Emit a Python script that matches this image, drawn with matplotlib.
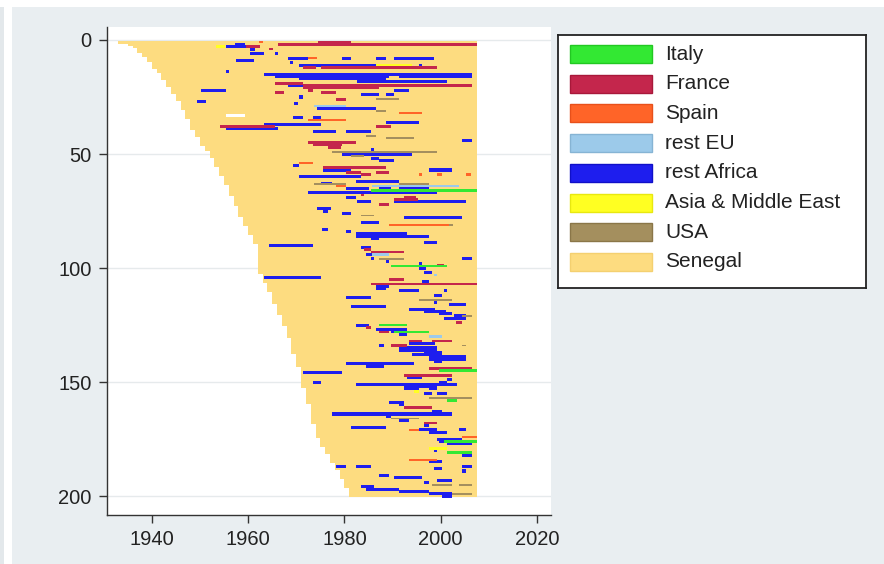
import numpy as np
import matplotlib.pyplot as plt
from matplotlib.patches import Rectangle

plt.rcParams['font.family'] = ['Liberation Sans', 'DejaVu Sans']

SURVEY_END = 2007.5

# first year observed in Senegal, one entry per cohort, and how many people share it
cohort_years = [1933, 1935, 1936, 1937, 1938, 1939, 1940, 1941, 1942, 1943, 1944, 1945,
                1946, 1947, 1948, 1949, 1950, 1951, 1952, 1953, 1954, 1955, 1956, 1957,
                1958, 1959, 1960, 1961, 1962, 1963, 1964, 1965, 1966, 1967, 1968, 1969,
                1970, 1971, 1972, 1973, 1974, 1975, 1976, 1977, 1978, 1979, 1980, 1981]
cohort_sizes = [1, 1, 1, 2, 2, 2, 3, 2, 3, 3, 3, 3,
                4, 4, 5, 3, 4, 2, 3, 4, 4, 4, 5, 4,
                5, 4, 4, 4, 13, 4, 4, 5, 5, 5, 5, 7,
                6, 9, 7, 9, 6, 4, 3, 4, 3, 4, 4, 4]

# spells abroad: (person, from, to)
italy = [(66, 1985.5, 2007.5), (99, 1989.6, 2001.4), (125, 1987.2, 1993.1),
         (128, 1990.3, 1997.6), (145, 1999.6, 2007.5), (158, 2001.4, 2003.4),
         (176, 2000.7, 2007.5), (181, 2001.4, 2006.5)]

france = [(1, 1974.5, 1981.3), (2, 1966.3, 2007.5), (3, 1959.6, 1962.4), (4, 1964.4, 1965.1),
          (12, 1971.3, 1974.1), (12, 1975.1, 1999.3), (19, 1965.5, 1971.3), (20, 1971.3, 2006.5),
          (21, 1971.3, 1987.2), (22, 1972.4, 1973.4), (23, 1965.5, 1967.5), (23, 1975.1, 1978.2),
          (26, 1978.2, 1980.3), (38, 1954.1, 1965.5), (38, 1986.5, 1989.6), (45, 1972.4, 1982.4),
          (46, 1973.4, 1979.6), (47, 1976.5, 1979.3), (56, 1975.5, 1988.6), (58, 1980.3, 1983.4),
          (58, 1986.5, 1989.3), (59, 1983.4, 1985.5), (68, 1983.4, 1984.1), (69, 1992.4, 1994.8),
          (70, 1990.3, 1995.2), (72, 1987.2, 1989.3), (92, 1984.1, 1985.5), (93, 1985.5, 1992.4),
          (99, 1999.3, 2000.7), (105, 1989.3, 1992.4), (107, 1985.5, 2007.5), (124, 2003.1, 2004.5),
          (126, 1984.5, 1985.5), (128, 1987.2, 1989.3), (132, 1993.4, 1996.2), (132, 1998.2, 2002.4),
          (134, 1989.6, 1993.1), (144, 1997.6, 2006.5), (147, 1992.4, 2002.4), (161, 1992.4, 1998.2),
          (168, 1996.5, 1999.3)]

spain = [(1, 1962.3, 1963.0), (8, 1972.4, 1974.4), (32, 1991.3, 1996.2), (35, 1972.4, 1980.3),
         (54, 1970.6, 1973.4), (59, 1995.5, 1996.2), (59, 1999.3, 2000.3), (59, 2005.2, 2006.2),
         (64, 1978.2, 1980.3), (81, 1989.3, 2001.7), (171, 1993.4, 1995.5), (174, 2004.5, 2007.5),
         (184, 1993.4, 1999.3)]

rest_eu = [(29, 1973.7, 1980.3), (64, 1985.8, 2003.8), (94, 1985.8, 1989.3),
           (103, 1998.6, 1999.3), (130, 1997.6, 2000.3)]

rest_africa = [
    (2, 1957.2, 1959.3), (3, 1955.5, 1962.4), (4, 1960.3, 1961.5), (6, 1960.3, 1963.4),
    (6, 1965.5, 1966.2), (8, 1968.2, 1972.4), (8, 1979.6, 1981.3), (8, 1986.5, 1988.6),
    (8, 1990.3, 1998.6), (9, 1957.4, 1961.3), (10, 1968.6, 1969.3), (11, 1970.6, 1986.5),
    (11, 1995.5, 1996.2), (14, 1955.5, 1956.1), (15, 1963.4, 2006.5), (16, 1965.5, 1989.3),
    (16, 1991.3, 2006.5), (17, 1970.6, 1988.6), (18, 1982.7, 2001.4), (20, 1968.2, 1971.3),
    (22, 1950.3, 1955.5), (22, 1990.3, 1993.4), (24, 1983.4, 1987.2), (24, 1988.6, 1990.3),
    (25, 1970.6, 1971.3), (27, 1949.3, 1951.2), (28, 1969.6, 1970.3), (30, 1974.4, 1986.5),
    (34, 1969.3, 1971.3), (34, 1973.4, 1975.1), (36, 1988.6, 1995.5), (37, 1963.4, 1975.1),
    (39, 1955.5, 1966.2), (40, 1973.4, 1978.2), (40, 1980.3, 1985.5), (44, 2004.5, 2006.5),
    (48, 1985.5, 1986.2), (50, 1979.6, 1994.1), (52, 1985.5, 1987.2), (53, 1987.2, 1990.3),
    (55, 1969.3, 1970.6), (57, 1975.5, 1981.3), (57, 1997.6, 2002.4), (60, 1970.6, 1983.4),
    (62, 1982.4, 1991.3), (63, 1975.1, 1977.5), (65, 1980.3, 1985.1), (65, 1987.2, 1989.6),
    (65, 1991.3, 1997.6), (67, 1972.4, 1999.3), (69, 1980.3, 1982.4), (71, 1982.7, 1985.5),
    (71, 1990.3, 2005.2), (74, 1974.4, 1977.2), (75, 1975.5, 1976.5), (76, 1979.6, 1981.3),
    (78, 1992.4, 2004.5), (80, 1983.4, 1987.2), (83, 1975.3, 1976.5), (84, 1980.3, 1981.3),
    (85, 1982.4, 1993.1), (86, 1982.4, 1997.6), (87, 1985.5, 1987.2), (89, 1996.5, 1999.3),
    (90, 1964.4, 1973.4), (91, 1983.4, 1985.5), (94, 1984.5, 1987.5), (96, 1985.5, 1986.2),
    (96, 2004.5, 2006.5), (97, 1988.6, 1989.3), (98, 1995.5, 1996.2), (100, 1995.5, 1996.9),
    (102, 1996.5, 1998.2), (104, 1963.4, 1975.1), (106, 1996.2, 1997.6), (108, 1986.5, 1989.3),
    (109, 1986.5, 1988.6), (110, 1991.3, 1995.5), (110, 2000.7, 2001.4), (112, 1998.6, 2000.3),
    (113, 1980.3, 1985.5), (115, 1998.6, 1999.3), (116, 2001.7, 2005.2), (117, 1981.3, 1988.6),
    (118, 1993.4, 1998.9), (119, 1996.5, 2001.0), (120, 1999.6, 2002.4), (121, 2002.8, 2005.2),
    (122, 2000.7, 2005.2), (125, 1982.4, 1985.1), (127, 1986.5, 1993.1), (128, 1989.6, 1991.3),
    (129, 1991.3, 1993.1), (133, 1993.4, 1998.9), (134, 1987.2, 1988.2), (135, 1991.3, 1999.3),
    (136, 1991.3, 1999.3), (137, 1996.5, 2000.3), (138, 1994.1, 2000.3), (139, 1997.6, 2005.2),
    (140, 1997.6, 2005.2), (141, 1998.6, 2000.3), (142, 1980.3, 1994.5), (143, 1984.5, 1988.2),
    (146, 1971.3, 1979.6), (148, 1993.1, 1996.2), (149, 2001.4, 2002.4), (150, 1973.4, 1975.1),
    (150, 1999.6, 2001.4), (151, 1982.4, 2003.4), (152, 1992.4, 1999.3), (153, 1992.4, 1995.5),
    (153, 1997.6, 1999.3), (155, 1996.5, 1998.2), (155, 1999.3, 2001.4), (159, 1989.3, 1992.4),
    (160, 1991.3, 1992.4), (161, 1995.5, 1997.6), (163, 1998.2, 2000.3), (164, 1977.5, 2002.4),
    (165, 1988.6, 1989.6), (167, 1991.3, 1993.4), (169, 1996.5, 1997.6), (170, 1981.3, 1988.6),
    (171, 1995.5, 1999.3), (171, 2003.8, 2005.2), (172, 1997.6, 2001.4), (175, 1999.3, 2004.5),
    (176, 1999.6, 2002.4), (177, 2001.4, 2006.5), (180, 1998.6, 1999.3), (182, 2004.5, 2006.5),
    (185, 1997.6, 2000.3), (187, 1978.2, 1980.3), (187, 1982.4, 1985.5), (187, 2004.5, 2006.5),
    (188, 1998.6, 2000.3), (189, 2004.5, 2005.2), (191, 1987.2, 1989.3), (192, 1990.3, 1996.2),
    (193, 1999.3, 2002.4), (194, 1996.5, 1997.6), (196, 1983.4, 1986.2), (197, 1984.5, 1991.3),
    (198, 1991.3, 1997.6), (199, 1997.6, 2002.4), (200, 2000.3, 2002.4)]

asia_me = [(3, 1953.4, 1955.1), (11, 1986.5, 1994.1), (154, 1994.5, 1995.5), (179, 1997.6, 2001.4)]

usa = [(26, 1986.5, 1991.3), (31, 1986.5, 1988.6), (42, 1984.5, 1986.5), (43, 1988.6, 1994.5),
       (49, 1977.5, 1999.3), (51, 1981.3, 1984.1), (63, 1973.7, 1980.3), (63, 1991.3, 1997.6),
       (77, 1983.4, 1986.2), (81, 2001.7, 2002.5), (96, 1987.2, 1992.4), (114, 1995.5, 2002.4),
       (121, 2004.5, 2006.5), (134, 2004.5, 2005.2), (157, 1997.6, 2006.5), (166, 1989.6, 1995.5),
       (195, 1998.2, 2002.4), (195, 2003.8, 2006.5), (199, 2002.4, 2006.5)]

# years with no information
missing = [(33, 1955.5, 1959.3)]

labels = ['Italy', 'France', 'Spain', 'rest EU', 'rest Africa',
          'Asia & Middle East', 'USA', 'Senegal']
colors = ['#33e833', '#c4264c', '#ff6428', '#9ccaea', '#1e1eee',
          '#ffff22', '#a48f5e', '#fddc80']
key_edges = ['#22c822', '#a8183a', '#e8501a', '#86b4d4', '#1010c8',
             '#e8e810', '#8a7648', '#f4d070']

fig = plt.figure(figsize=(8.84, 5.64), dpi=100, facecolor='white')
fig.patches.append(Rectangle((12 / 884, 0), 1, 1 - 7 / 564, transform=fig.transFigure,
                             facecolor='#e9eef1', edgecolor='none', zorder=-10))
fig.patches.append(Rectangle((0, 0), 4 / 884, 1 - 7 / 564, transform=fig.transFigure,
                             facecolor='#e3e8eb', edgecolor='none', zorder=-10))

ax = fig.add_axes([107 / 884, 1 - 515 / 564, 444 / 884, 488 / 564])
ax.set_facecolor('white')

# everyone is in Senegal from their first year to the survey
starts = np.repeat(cohort_years, cohort_sizes)
people = np.arange(1, len(starts) + 1)
ax.barh(people, SURVEY_END - starts, left=starts, height=1.2,
        color=colors[7], linewidth=0, zorder=2)


def draw_spells(spells, color, thick, z):
    p = [s[0] for s in spells]
    a = np.array([s[1] for s in spells])
    b = np.array([s[2] for s in spells])
    ax.barh(p, b - a, left=a, height=thick, color=color, linewidth=0, zorder=z)


draw_spells(missing, 'white', 1.1, 3)
draw_spells(rest_africa, colors[4], 1.35, 4)
draw_spells(usa, colors[6], 0.75, 5)
draw_spells(france, colors[1], 1.2, 5)
draw_spells(spain, colors[2], 0.95, 5)
draw_spells(rest_eu, colors[3], 1.1, 5)
draw_spells(asia_me, colors[5], 1.2, 5)
draw_spells(italy, colors[0], 1.1, 6)

ax.set_xlim(1930.7, 2022.9)
ax.set_ylim(208.3, -5.7)
ax.set_xticks([1940, 1960, 1980, 2000, 2020])
ax.set_yticks([0, 50, 100, 150, 200])
ax.tick_params(axis='both', labelsize=14.5, length=6, width=1, color='#333333',
               labelcolor='#222222', pad=5)
ax.grid(axis='y', color='#e6eaec', linewidth=1, zorder=0)
ax.set_axisbelow(True)
for side in ['top', 'right']:
    ax.spines[side].set_visible(False)
for side in ['left', 'bottom']:
    ax.spines[side].set_color('#333333')
    ax.spines[side].set_linewidth(1)

# key, laid out in pixels of its own box
key = fig.add_axes([558 / 884, 1 - 288 / 564, 308 / 884, 253 / 564])
key.set_xlim(0, 308)
key.set_ylim(253, 0)
key.set_xticks([])
key.set_yticks([])
key.set_facecolor('white')
for s in key.spines.values():
    s.set_color('#222222')
    s.set_linewidth(1.3)
for i, (lab, col, edge) in enumerate(zip(labels, colors, key_edges)):
    yc = 19 + i * 29.7
    key.add_patch(Rectangle((12, yc - 9), 82, 18, facecolor=col, edgecolor=edge, linewidth=1))
    key.text(107, yc, lab, fontsize=15, va='center', ha='left', color='#222222')

fig.savefig('out.png', dpi=100)
